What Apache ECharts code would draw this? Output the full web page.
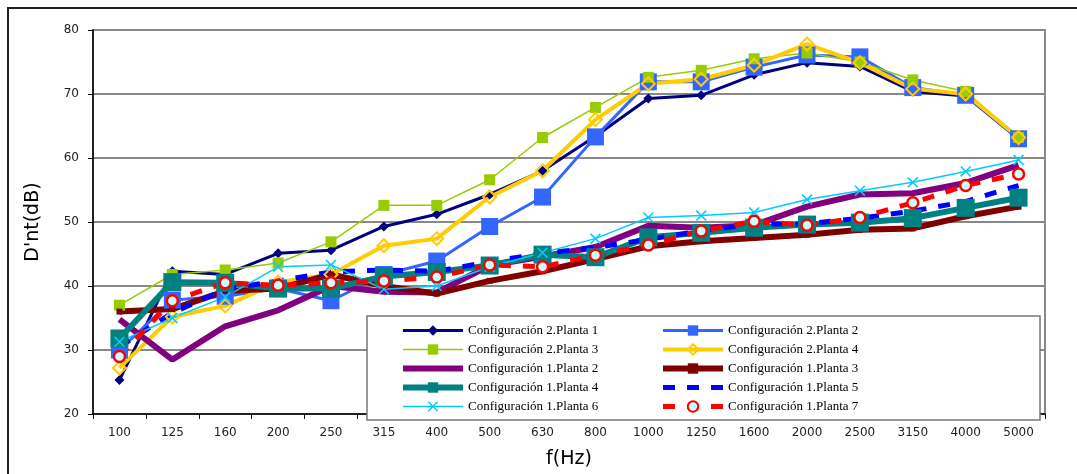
<!DOCTYPE html>
<html>
<head>
<meta charset="utf-8">
<script src="https://cdn.jsdelivr.net/npm/echarts@6/dist/echarts.min.js"></script>
<style>
  html, body { margin: 0; padding: 0; background: #fff; }
  #chart { width: 1077px; height: 474px; }
</style>
</head>
<body>
<div id="chart"></div>
<script>
// bandas de frecuencia (Hz)
var freqs = ['100','125','160','200','250','315','400','500','630','800','1000','1250','1600','2000','2500','3150','4000','5000'];
var yTicks = [20, 30, 40, 50, 60, 70, 80];

// D'nt (dB)
var c2p1 = [25.3, 42.3, 41.8, 45.1, 45.6, 49.3, 51.2, 54.3, 58.0, 63.4, 69.3, 69.8, 73.0, 74.9, 74.3, 70.4, 69.7, 63.0];
var c2p2 = [30.0, 37.8, 38.4, 39.6, 37.7, 41.8, 43.9, 49.3, 53.9, 63.3, 71.9, 71.9, 74.2, 76.1, 75.8, 71.0, 69.8, 63.0];
var c2p3 = [37.0, 41.8, 42.5, 43.6, 46.9, 52.6, 52.6, 56.6, 63.2, 67.9, 72.6, 73.7, 75.5, 76.4, 75.0, 72.2, 70.4, 63.2];
var c2p4 = [27.2, 35.2, 36.9, 40.6, 41.8, 46.3, 47.4, 53.9, 58.0, 66.0, 71.6, 72.3, 74.5, 77.8, 74.9, 70.8, 70.0, 63.2];
var c1p2 = [34.8, 28.5, 33.7, 36.2, 40.0, 39.1, 39.0, 43.2, 44.6, 46.1, 49.4, 49.1, 49.5, 52.4, 54.3, 54.5, 56.1, 58.9];
var c1p3 = [36.0, 36.4, 39.2, 39.6, 41.8, 40.0, 38.8, 40.8, 42.3, 44.2, 46.2, 47.0, 47.5, 48.0, 48.8, 49.0, 50.9, 52.4];
var c1p4 = [31.8, 40.6, 40.5, 39.6, 39.6, 41.5, 42.2, 43.2, 44.9, 44.5, 47.6, 48.3, 49.1, 49.6, 49.9, 50.6, 52.2, 53.8];
var c1p5 = [30.5, 35.8, 39.5, 40.8, 42.2, 42.5, 42.3, 43.8, 45.1, 46.0, 47.3, 48.6, 49.7, 49.7, 50.6, 51.7, 53.2, 55.7];
var c1p6 = [31.3, 35.0, 38.3, 43.0, 43.3, 39.5, 40.0, 43.0, 45.2, 47.4, 50.7, 51.0, 51.5, 53.5, 54.9, 56.2, 57.9, 59.7];
var c1p7 = [29.0, 37.7, 40.5, 40.1, 40.5, 40.8, 41.4, 43.3, 43.0, 44.8, 46.4, 48.6, 50.1, 49.5, 50.7, 53.0, 55.7, 57.5];

var names = [
  'Configuración 2.Planta 1', 'Configuración 2.Planta 2',
  'Configuración 2.Planta 3', 'Configuración 2.Planta 4',
  'Configuración 1.Planta 2', 'Configuración 1.Planta 3',
  'Configuración 1.Planta 4', 'Configuración 1.Planta 5',
  'Configuración 1.Planta 6', 'Configuración 1.Planta 7'
];

// aspa (x) rellena, los simbolos path se rellenan
var crossPath = 'path://M0,1 L1,0 L5,4 L9,0 L10,1 L6,5 L10,9 L9,10 L5,6 L1,10 L0,9 L4,5 Z';

function linea(name, data, color, width, symbol, size, extra) {
  var s = {
    name: name,
    type: 'line',
    data: data,
    symbol: symbol,
    symbolSize: size,
    showSymbol: symbol !== 'none',
    lineStyle: { color: color, width: width },
    itemStyle: { color: color },
    emphasis: { disabled: true }
  };
  if (extra) extra(s);
  return s;
}

// entrada de leyenda con grosor de linea; sin marcador si hace falta
function entrada(name, width, sinMarca) {
  var e = { name: name, lineStyle: { width: width } };
  if (sinMarca) e.itemStyle = { color: 'rgba(0,0,0,0)', borderWidth: 0 };
  return e;
}

var legendText = { fontFamily: 'Liberation Serif', fontSize: 13, color: '#000' };

var option = {
  animation: false,
  backgroundColor: '#fff',
  grid: {
    left: 93, top: 30, right: 32, bottom: 59,
    show: true, borderColor: '#888', borderWidth: 2
  },
  legend: [
    {
      orient: 'vertical', left: 395, top: 319, itemWidth: 60, itemHeight: 13, itemGap: 6,
      textStyle: legendText, selectedMode: false,
      data: [
        entrada(names[0], 3), entrada(names[2], 1.5), entrada(names[4], 6, true),
        entrada(names[6], 6), entrada(names[8], 1.5)
      ]
    },
    {
      orient: 'vertical', left: 655, top: 319, itemWidth: 60, itemHeight: 13, itemGap: 6,
      textStyle: legendText, selectedMode: false,
      data: [
        entrada(names[1], 3), entrada(names[3], 4), entrada(names[5], 6),
        entrada(names[7], 5, true), entrada(names[9], 5)
      ]
    }
  ],
  graphic: [
    {
      type: 'rect', z: 3,
      shape: { x: 367, y: 316, width: 673, height: 104 },
      style: { fill: '#fff', stroke: '#777', lineWidth: 1.5 }
    },
    {
      type: 'rect', z: 0, silent: true,
      shape: { x: 8, y: 8, width: 1085, height: 480 },
      style: { fill: 'none', stroke: '#222', lineWidth: 2 }
    }
  ],
  xAxis: {
    type: 'category',
    data: freqs,
    boundaryGap: true,
    name: 'f(Hz)',
    nameLocation: 'middle',
    nameGap: 36,
    nameTextStyle: { fontFamily: 'DejaVu Sans', fontSize: 19, color: '#000' },
    axisLine: { lineStyle: { color: '#000', width: 1.5 } },
    axisTick: { show: true, length: 5, lineStyle: { color: '#000' } },
    axisLabel: { fontFamily: 'DejaVu Sans', fontSize: 12, color: '#222', margin: 13 },
    splitLine: { show: false }
  },
  yAxis: {
    type: 'value',
    min: yTicks[0],
    max: yTicks[yTicks.length - 1],
    interval: 10,
    name: "D'nt(dB)",
    nameLocation: 'middle',
    nameGap: 50,
    nameRotate: 90,
    nameTextStyle: { fontFamily: 'DejaVu Sans', fontSize: 19, color: '#000' },
    axisLine: { show: true, lineStyle: { color: '#000', width: 1.5 } },
    axisTick: { show: true, length: 5, inside: false, lineStyle: { color: '#000' } },
    axisLabel: { fontFamily: 'DejaVu Sans', fontSize: 12, color: '#222', margin: 14 },
    splitLine: { show: true, lineStyle: { color: '#888', width: 2 } }
  },
  series: [
    linea(names[0], c2p1, '#000080', 3, 'diamond', 10),
    linea(names[1], c2p2, '#3366FF', 3, 'rect', 17),
    linea(names[2], c2p3, '#99CC00', 1.5, 'rect', 11),
    linea(names[3], c2p4, '#FFCC00', 4, 'diamond', 13, function (s) {
      s.itemStyle = { color: 'rgba(255,255,255,0)', borderColor: '#FFCC00', borderWidth: 2 };
    }),
    linea(names[4], c1p2, '#800080', 6, 'none', 0),
    linea(names[5], c1p3, '#800000', 6, 'rect', 6),
    linea(names[6], c1p4, '#008080', 6, 'rect', 18),
    linea(names[7], c1p5, '#0000FF', 5, 'none', 0, function (s) {
      s.lineStyle.type = [12, 12];
    }),
    linea(names[8], c1p6, '#00CCFF', 1.5, crossPath, 11),
    linea(names[9], c1p7, '#FF0000', 5, 'circle', 11, function (s) {
      s.lineStyle.type = [12, 12];
      s.itemStyle = { color: '#CCFFFF', borderColor: '#FF0000', borderWidth: 2.5 };
    })
  ]
};

var myChart = echarts.init(document.getElementById('chart'));
myChart.setOption(option);
</script>
</body>
</html>
